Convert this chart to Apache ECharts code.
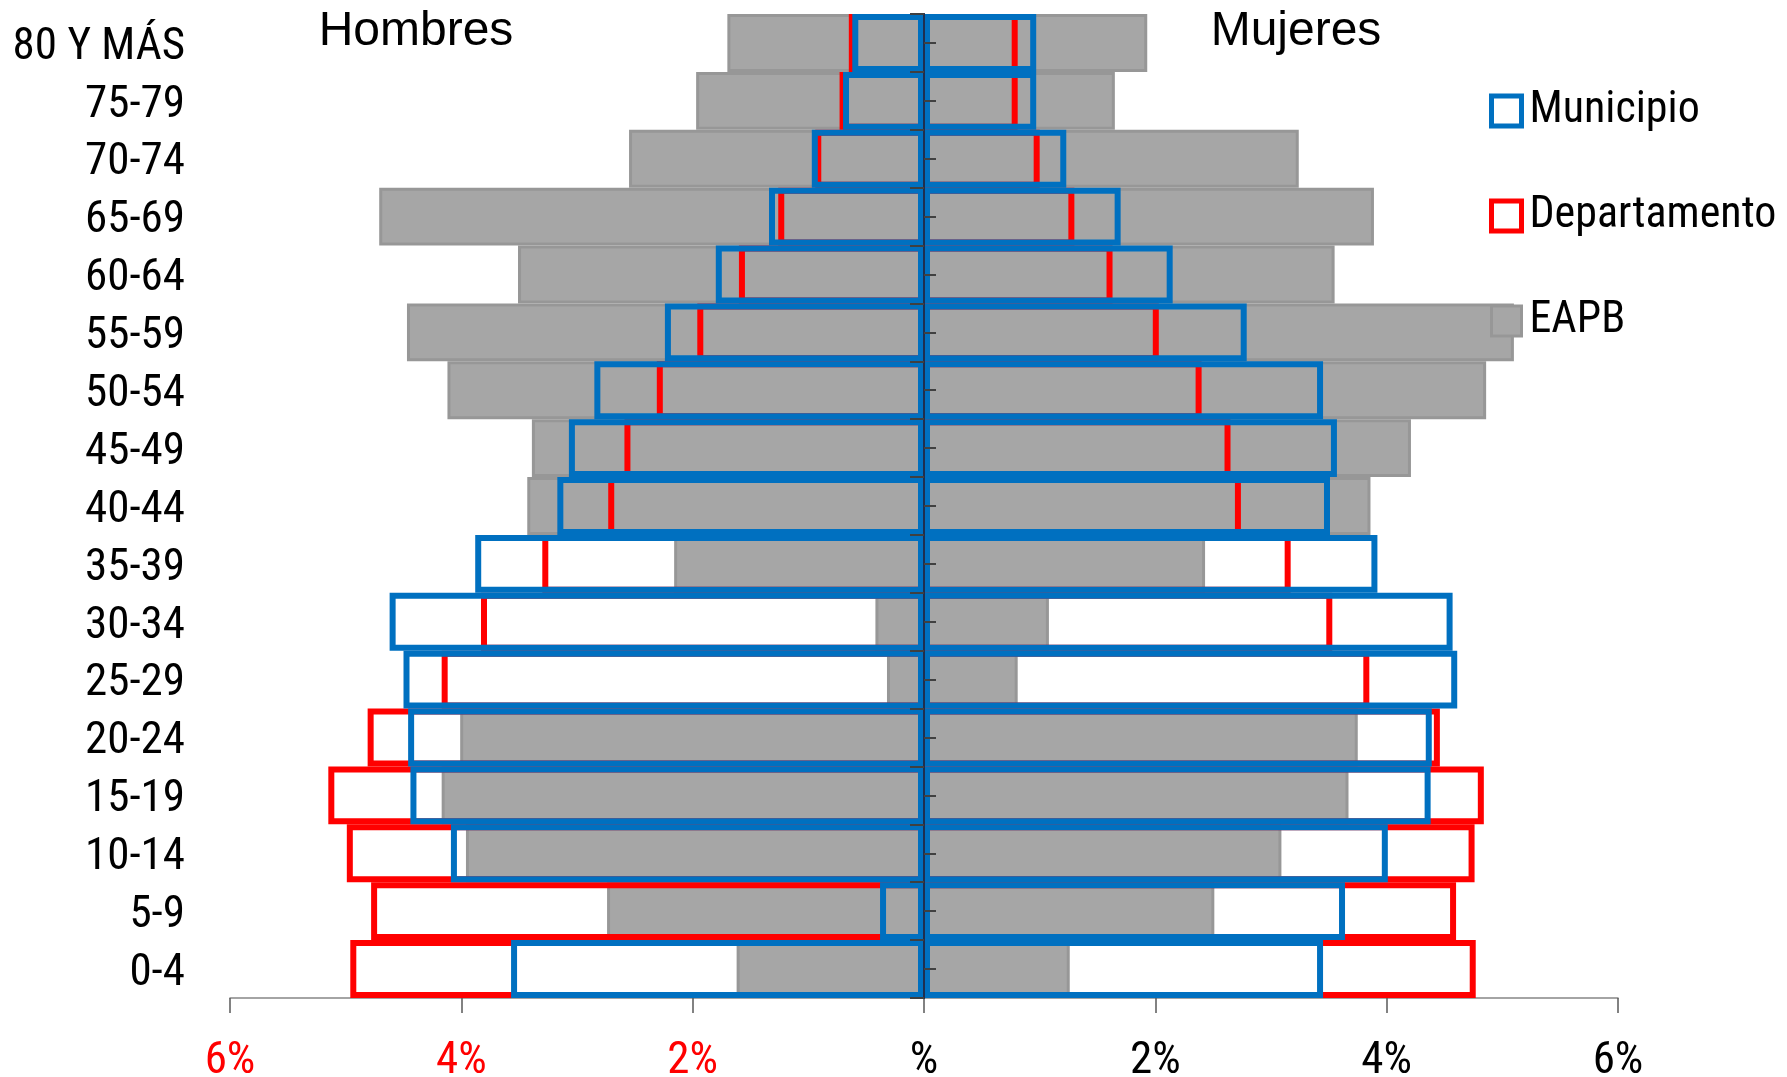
<!DOCTYPE html>
<html>
<head>
<meta charset="utf-8">
<script src="https://cdn.jsdelivr.net/npm/echarts@6/dist/echarts.min.js"></script>
<style>
  html, body { margin: 0; padding: 0; background: #fff; }
  #chart { width: 1787px; height: 1077px; }
</style>
</head>
<body>
<div id="chart"></div>
<script>
// Age groups, top to bottom
const categories = ['80 Y MÁS','75-79','70-74','65-69','60-64','55-59','50-54','45-49','40-44','35-39','30-34','25-29','20-24','15-19','10-14','5-9','0-4'];

// Percent values (Hombres drawn to the left)
const eapbHombres = [1.70,1.97,2.55,4.71,3.51,4.47,4.12,3.39,3.43,2.16,0.42,0.32,4.01,4.17,3.96,2.74,1.62];
const eapbMujeres = [1.93,1.65,3.24,3.89,3.55,5.10,4.86,4.21,3.86,2.43,1.08,0.81,3.75,3.67,3.09,2.51,1.26];
const depHombres  = [0.65,0.73,0.94,1.26,1.60,1.96,2.31,2.59,2.73,3.30,3.83,4.17,4.81,5.15,4.99,4.78,4.96];
const depMujeres  = [0.81,0.81,1.00,1.30,1.63,2.03,2.40,2.65,2.74,3.17,3.53,3.85,4.46,4.84,4.76,4.60,4.77];
const munHombres  = [0.62,0.70,0.97,1.34,1.80,2.24,2.85,3.07,3.17,3.88,4.62,4.50,4.46,4.44,4.09,0.38,3.57];
const munMujeres  = [0.97,0.97,1.23,1.70,2.15,2.79,3.45,3.57,3.51,3.92,4.57,4.61,4.39,4.38,4.01,3.64,3.45];

// X tick values and their labels
const xTicks = [-6,-4,-2,0,2,4,6];
const xTickLabels = ['6%','4%','2%','%','2%','4%','6%'];

// Pick a narrow font if one is installed; otherwise use a regular one at a size that matches widths
function hasFont(name) {
  const c = document.createElement('canvas').getContext('2d');
  const s = 'Departamento 80 Y MÁS';
  c.font = '46px monospace'; const w1 = c.measureText(s).width;
  c.font = '46px "' + name + '", monospace'; const w2 = c.measureText(s).width;
  c.font = '46px serif'; const w3 = c.measureText(s).width;
  c.font = '46px "' + name + '", serif'; const w4 = c.measureText(s).width;
  return Math.abs(w1 - w2) > 0.5 || Math.abs(w3 - w4) > 0.5;
}
const narrowList = ['Liberation Sans Narrow', 'Arial Narrow', 'Roboto Condensed', 'Noto Sans Condensed', 'Open Sans Condensed'];
let NARROW = null;
for (const f of narrowList) { if (hasFont(f)) { NARROW = f; break; } }
const LBL_FONT = NARROW ? '"' + NARROW + '", sans-serif' : '"Liberation Sans", Arial, sans-serif';
const LBL_SIZE = NARROW ? 45 : 39;
const LEG_SIZE = NARROW ? 44 : 38;
const REG = '"Liberation Sans", Arial, sans-serif';
const BLUE = '#0070C0', RED = '#FF0000', GRAY = '#A6A6A6', GRAYB = '#979797';

const neg = a => a.map(v => -v);
const gridPos = { left: 230, right: 169, top: 14, bottom: 79, containLabel: false, outerBoundsMode: 'none' };
// label grid: same rows, nudged down a few pixels so label glyphs sit on row centres
const labelGridPos = { left: 230, right: 169, top: 18.5, bottom: 74.5, containLabel: false, outerBoundsMode: 'none' };

function barSeries(name, data, style, z) {
  return {
    name, type: 'bar', data, xAxisIndex: 0, yAxisIndex: 0,
    barGap: '-100%', barCategoryGap: '0%', z,
    itemStyle: style, emphasis: { disabled: true }, animation: false
  };
}

const grayStyle = { color: GRAY, borderColor: GRAYB, borderWidth: 3 };
const redStyle  = { color: 'rgba(0,0,0,0)', borderColor: RED, borderWidth: 6 };
const blueStyle = { color: 'rgba(0,0,0,0)', borderColor: BLUE, borderWidth: 6 };

const chart = echarts.init(document.getElementById('chart'));
chart.setOption({
  backgroundColor: '#fff',
  animation: false,
  grid: [ Object.assign({}, gridPos), Object.assign({}, gridPos), Object.assign({}, labelGridPos) ],
  xAxis: [
    {
      type: 'value', gridIndex: 0, min: xTicks[0], max: xTicks[xTicks.length-1], interval: 2,
      splitLine: { show: false },
      axisLine: { show: true, lineStyle: { color: '#868686', width: 1.5 } },
      axisTick: { show: true, length: 15, lineStyle: { color: '#595959', width: 1.5 } },
      axisLabel: {
        margin: 64 - LBL_SIZE / 2,
        fontFamily: LBL_FONT, fontSize: LBL_SIZE,
        formatter: v => xTickLabels[xTicks.indexOf(Math.round(v))] ?? '',
        color: v => (v < 0 ? RED : '#000')
      }
    },
    { type: 'value', gridIndex: 1, min: xTicks[0], max: xTicks[xTicks.length-1], interval: 2, show: false },
    { type: 'value', gridIndex: 2, min: xTicks[0], max: xTicks[xTicks.length-1], interval: 2, show: false }
  ],
  yAxis: [
    {
      type: 'category', gridIndex: 0, data: categories, inverse: true, z: 20,
      axisLine: { show: true, onZero: true, lineStyle: { color: '#1F2F4F', width: 2 } },
      axisTick: { show: true, interval: 0, length: 14, lineStyle: { color: '#404040', width: 2 } },
      axisLabel: { show: false }
    },
    {
      type: 'category', gridIndex: 1, data: categories, inverse: true, z: 20,
      axisLine: { show: true, onZero: true, lineStyle: { color: '#1F2F4F', width: 2 } },
      axisTick: { show: true, interval: 0, inside: true, alignWithLabel: true, length: 12, lineStyle: { color: '#404040', width: 2 } },
      axisLabel: { show: false }
    },
    {
      type: 'category', gridIndex: 2, data: categories, inverse: true,
      axisLine: { show: false, onZero: false },
      axisTick: { show: false },
      axisLabel: { interval: 0, margin: 45, fontFamily: LBL_FONT, fontSize: LBL_SIZE, color: '#000' }
    }
  ],
  legend: {
    orient: 'vertical', left: 1489, top: 88, padding: 0,
    itemWidth: 30, itemHeight: 30, itemGap: 59,
    textStyle: { fontFamily: LBL_FONT, fontSize: LEG_SIZE, lineHeight: 46, color: '#000', padding: [0, 0, 0, 3] },
    selectedMode: false,
    data: [
      { name: 'Municipio', icon: 'rect', itemStyle: { color: 'rgba(0,0,0,0)', borderColor: BLUE, borderWidth: 5 } },
      { name: 'Departamento', icon: 'rect', itemStyle: { color: 'rgba(0,0,0,0)', borderColor: RED, borderWidth: 5 } },
      { name: 'EAPB', icon: 'rect', itemStyle: { color: GRAY, borderColor: GRAYB, borderWidth: 3 } }
    ]
  },
  graphic: [
    { type: 'text', x: 416, y: 32, z: 100,
      style: { text: 'Hombres', fontFamily: REG, fontSize: 48, fill: '#000',
               align: 'center', verticalAlign: 'middle', textAlign: 'center', textVerticalAlign: 'middle' } },
    { type: 'text', x: 1296, y: 32, z: 100,
      style: { text: 'Mujeres', fontFamily: REG, fontSize: 48, fill: '#000',
               align: 'center', verticalAlign: 'middle', textAlign: 'center', textVerticalAlign: 'middle' } }
  ],
  series: [
    barSeries('EAPB', neg(eapbHombres), grayStyle, 2),
    barSeries('EAPB', eapbMujeres, grayStyle, 2),
    barSeries('Departamento', neg(depHombres), redStyle, 3),
    barSeries('Departamento', depMujeres, redStyle, 3),
    barSeries('Municipio', neg(munHombres), blueStyle, 4),
    barSeries('Municipio', munMujeres, blueStyle, 4)
  ]
});
</script>
</body>
</html>
